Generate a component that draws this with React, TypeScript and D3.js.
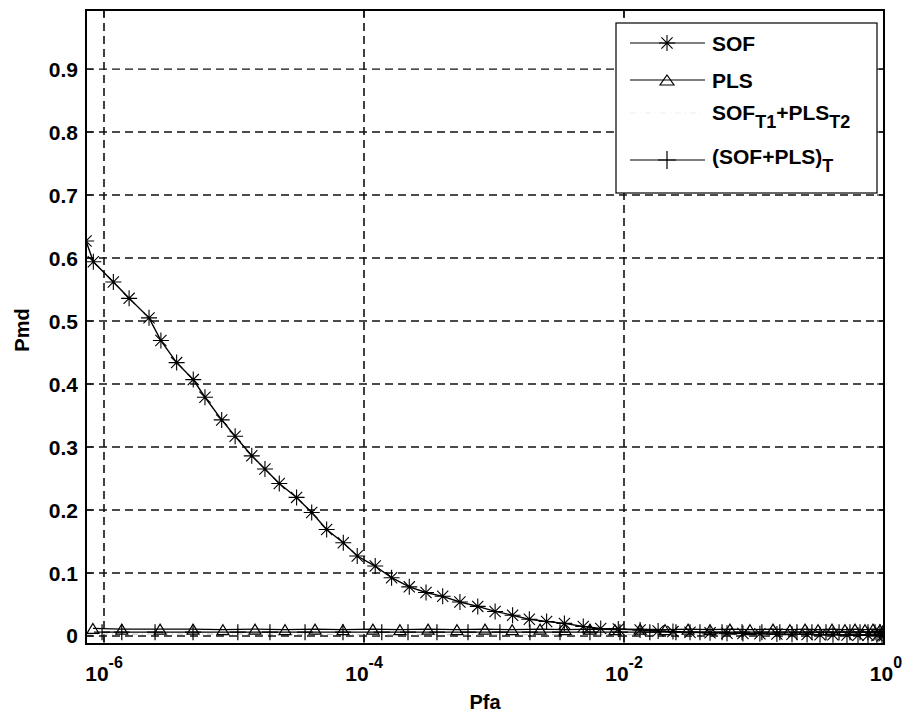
import React from 'react';
import * as d3 from 'd3';

// SOF curve (Pfa, Pmd)
const sofPfa = [7.28e-7, 8.28e-7, 1.18e-6, 1.56e-6, 2.22e-6, 2.74e-6, 3.62e-6, 4.86e-6, 5.98e-6, 8.04e-6,
  1.02e-5, 1.37e-5, 1.73e-5, 2.23e-5, 3.03e-5, 3.96e-5, 5.16e-5, 6.93e-5, 8.87e-5, 1.22e-4,
  1.63e-4, 2.23e-4, 3.0e-4, 4.03e-4, 5.47e-4, 7.5e-4, 1.02e-3, 1.39e-3, 1.87e-3, 2.54e-3,
  3.48e-3, 4.86e-3, 6.62e-3, 9.04e-3, 1.33e-2, 1.83e-2, 2.38e-2, 3.22e-2, 4.59e-2, 6.2e-2,
  8.22e-2, 0.111, 0.15, 0.196, 0.256, 0.322, 0.405, 0.519, 0.631, 0.753, 0.883, 0.966, 1.0];
const sofPmd = [0.627, 0.594, 0.562, 0.536, 0.505, 0.469, 0.434, 0.407, 0.379, 0.343,
  0.317, 0.286, 0.265, 0.242, 0.22, 0.196, 0.169, 0.148, 0.127, 0.111,
  0.0925, 0.078, 0.069, 0.063, 0.054, 0.047, 0.039, 0.033, 0.0265, 0.023,
  0.02, 0.015, 0.012, 0.011, 0.0095, 0.008, 0.007, 0.006, 0.005, 0.0045,
  0.004, 0.0035, 0.003, 0.0028, 0.0025, 0.002, 0.002, 0.0015, 0.0012, 0.001, 0.0008, 0.0005, 0.0003];

// PLS
const plsPfa = [8.22e-7, 1.37e-6, 2.7e-6, 4.84e-6, 8.22e-6, 1.45e-5, 2.47e-5, 4.2e-5, 6.89e-5, 1.17e-4,
  1.89e-4, 3.11e-4, 5.19e-4, 8.53e-4, 1.38e-3, 2.26e-3, 3.52e-3, 5.47e-3, 8.53e-3, 1.33e-2,
  2.07e-2, 3.11e-2, 4.59e-2, 6.53e-2, 9.31e-2, 0.14, 0.189, 0.247, 0.311, 0.398,
  0.501, 0.598, 0.714, 0.823, 0.931, 1.0];
const plsPmd = [0.012, 0.011, 0.011, 0.011, 0.01, 0.011, 0.01, 0.011, 0.01, 0.011,
  0.01, 0.011, 0.01, 0.011, 0.01, 0.011, 0.01, 0.011, 0.01, 0.011,
  0.01, 0.011, 0.01, 0.011, 0.01, 0.011, 0.01, 0.011, 0.01, 0.011,
  0.01, 0.011, 0.01, 0.011, 0.01, 0.011];

// SOF_T1 + PLS_T2 (faint in the scan, no markers)
const combPfa = [7.4e-7, 1e-5, 1e-4, 1e-3, 1e-2, 0.1, 1.0];
const combPmd = [0.003, 0.003, 0.002, 0.002, 0.002, 0.002, 0.002];

// (SOF+PLS)_T
const jointPfa = [9.66e-7, 1.37e-6, 2.47e-6, 4.84e-6, 1.07e-5, 1.89e-5, 3.52e-5, 6.89e-5, 1.37e-4, 2.18e-4,
  3.64e-4, 6.31e-4, 1.11e-3, 1.89e-3, 3.22e-3, 5.47e-3, 9.31e-3, 1.58e-2, 2.51e-2, 3.84e-2,
  5.68e-2, 8.09e-2, 0.115, 0.158, 0.214, 0.279, 0.358, 0.451, 0.547, 0.654, 0.753, 0.853, 0.931, 1.0];
const jointPmd = [0.006, 0.006, 0.006, 0.006, 0.006, 0.006, 0.006, 0.006, 0.006, 0.006,
  0.006, 0.006, 0.006, 0.006, 0.006, 0.006, 0.006, 0.006, 0.006, 0.006,
  0.006, 0.006, 0.006, 0.006, 0.006, 0.006, 0.006, 0.006, 0.006, 0.006, 0.006, 0.006, 0.006, 0.006];

const yTicks = [0, 0.1, 0.2, 0.3, 0.4, 0.5, 0.6, 0.7, 0.8, 0.9];
const xTickExps = [-6, -4, -2, 0];

const font = '"Liberation Sans", Arial, sans-serif';

const starPath = (s: number) =>
  `M${-s},0H${s}M0,${-s}V${s}M${-s * 0.7},${-s * 0.7}L${s * 0.7},${s * 0.7}M${-s * 0.7},${s * 0.7}L${s * 0.7},${-s * 0.7}`;
const triPath = (w: number, h: number) => `M0,${-h / 2}L${w},${h / 2}L${-w},${h / 2}Z`;
const plusPath = (s: number) => `M${-s},0H${s}M0,${-s}V${s}`;

export default function App() {
  const left = 86, right = 884, top = 10, bottom = 644;
  const x = d3.scaleLog().domain([Math.pow(10, -798 / 130), 1]).range([left, right]);
  const y = d3.scaleLinear().domain([-0.0127, 0.9937]).range([bottom, top]);

  const line = (xs: number[], ys: number[]) =>
    d3.line<number>().x((_, i) => x(xs[i])).y((_, i) => y(ys[i]))(xs.map((_, i) => i)) || '';

  const legendItems = [
    { label: 'SOF', marker: 'star', yy: 43 },
    { label: 'PLS', marker: 'tri', yy: 80 },
    { label: 'comb', marker: 'none', yy: 117 },
    { label: 'joint', marker: 'plus', yy: 160 },
  ];

  return (
    <div style={{ position: 'fixed', left: 0, top: 0 }}>
      <svg width={905} height={718} style={{ display: 'block', background: '#fff' }} fontFamily={font}>
        <rect x={0} y={0} width={905} height={718} fill="#fff" />
        <defs>
          <clipPath id="plot">
            <rect x={left} y={top} width={right - left} height={bottom - top} />
          </clipPath>
        </defs>

        {/* grid */}
        {yTicks.map(t => (
          <line key={'gy' + t} x1={left} x2={right} y1={y(t)} y2={y(t)} stroke="#111" strokeWidth={1.3} strokeDasharray="8,5" />
        ))}
        {xTickExps.map(e => (
          <line key={'gx' + e} x1={x(Math.pow(10, e))} x2={x(Math.pow(10, e))} y1={top} y2={bottom} stroke="#111" strokeWidth={1.6} strokeDasharray="8,5" />
        ))}

        {/* ticks */}
        {yTicks.map(t => (
          <g key={'ty' + t}>
            <line x1={left} x2={left + 7} y1={y(t)} y2={y(t)} stroke="#000" />
            <line x1={right} x2={right - 7} y1={y(t)} y2={y(t)} stroke="#000" />
          </g>
        ))}
        {xTickExps.map(e => (
          <g key={'tx' + e}>
            <line x1={x(Math.pow(10, e))} x2={x(Math.pow(10, e))} y1={bottom} y2={bottom - 7} stroke="#000" />
            <line x1={x(Math.pow(10, e))} x2={x(Math.pow(10, e))} y1={top} y2={top + 7} stroke="#000" />
          </g>
        ))}

        {/* series */}
        <g clipPath="url(#plot)">
          <path d={line(combPfa, combPmd)} fill="none" stroke="#bbb" strokeWidth={1} strokeDasharray="6,4,1,4" />
          <path d={line(jointPfa, jointPmd)} fill="none" stroke="#000" strokeWidth={1.2} />
          {jointPfa.map((p, i) => (
            <path key={'j' + i} d={plusPath(8)} transform={`translate(${x(p)},${y(jointPmd[i])})`} stroke="#000" strokeWidth={1.2} fill="none" />
          ))}
          <path d={line(plsPfa, plsPmd)} fill="none" stroke="#000" strokeWidth={1.2} />
          {plsPfa.map((p, i) => (
            <path key={'p' + i} d={triPath(6, 10)} transform={`translate(${x(p)},${y(plsPmd[i])})`} stroke="#000" strokeWidth={1.2} fill="none" />
          ))}
          <path d={line(sofPfa, sofPmd)} fill="none" stroke="#000" strokeWidth={1.4} />
          {sofPfa.map((p, i) => (
            <path key={'s' + i} d={starPath(8)} transform={`translate(${x(p)},${y(sofPmd[i])})`} stroke="#000" strokeWidth={1.1} fill="none" />
          ))}
        </g>

        {/* frame */}
        <rect x={left} y={top} width={right - left} height={bottom - top} fill="none" stroke="#000" strokeWidth={2} />

        {/* tick labels */}
        {yTicks.map(t => (
          <text key={'ly' + t} x={left - 8} y={y(t) + 7.5} textAnchor="end" fontSize={21} fontWeight="bold">
            {t === 0 ? '0' : t.toFixed(1)}
          </text>
        ))}
        {xTickExps.map(e => (
          <text key={'lx' + e} x={x(Math.pow(10, e)) + (e === 0 ? 2 : 0)} y={681} textAnchor="middle" fontSize={21} fontWeight="bold">
            10<tspan fontSize={16} dy={-13}>{String(e)}</tspan>
          </text>
        ))}

        {/* axis labels */}
        <text x={485} y={709} textAnchor="middle" fontSize={20} fontWeight="bold">Pfa</text>
        <text transform="translate(29,330) rotate(-90)" textAnchor="middle" fontSize={20} fontWeight="bold">Pmd</text>

        {/* legend */}
        <rect x={616} y={23} width={261} height={170} fill="#fff" stroke="#000" strokeWidth={1.2} />
        {legendItems.map(it => (
          <g key={it.label}>
            {it.marker !== 'none' && (
              <line x1={630} x2={705} y1={it.yy} y2={it.yy} stroke="#000" strokeWidth={1.2} />
            )}
            {it.marker === 'none' && (
              <line x1={630} x2={705} y1={it.yy - 4} y2={it.yy - 4} stroke="#eee" strokeWidth={1} strokeDasharray="6,4,1,4" />
            )}
            {it.marker === 'star' && <path d={starPath(8)} transform={`translate(667,${it.yy})`} stroke="#000" fill="none" strokeWidth={1.1} />}
            {it.marker === 'tri' && <path d={triPath(7, 10)} transform={`translate(667,${it.yy})`} stroke="#000" fill="none" strokeWidth={1.2} />}
            {it.marker === 'plus' && <path d={plusPath(9)} transform={`translate(667,${it.yy})`} stroke="#000" fill="none" strokeWidth={1.2} />}
          </g>
        ))}
        <text x={712} y={51} fontSize={21} fontWeight="bold">SOF</text>
        <text x={712} y={88} fontSize={21} fontWeight="bold">PLS</text>
        <text x={712} y={120} fontSize={21} fontWeight="bold">
          SOF<tspan fontSize={18} dy={8}>T1</tspan><tspan fontSize={21} dy={-8}>+PLS</tspan><tspan fontSize={18} dy={8}>T2</tspan>
        </text>
        <text x={712} y={164} fontSize={21} fontWeight="bold">
          (SOF+PLS)<tspan fontSize={18} dy={8}>T</tspan>
        </text>
      </svg>
    </div>
  );
}
